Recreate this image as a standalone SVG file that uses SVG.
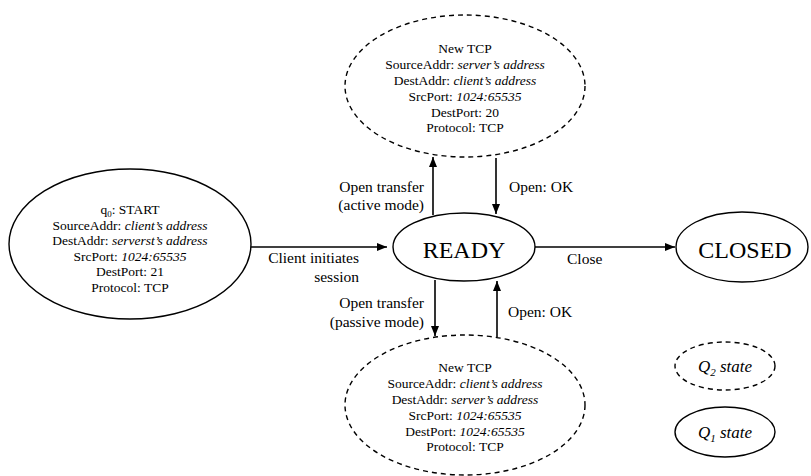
<svg xmlns="http://www.w3.org/2000/svg" width="811" height="476" viewBox="0 0 811 476">
<defs>
<style>
.n{fill:#fff;stroke:#000;stroke-width:1.4}
.d{fill:#fff;stroke:#000;stroke-width:1.4;stroke-dasharray:5 4}
.t{font-family:"Liberation Serif",serif;font-size:13.5px;fill:#000;text-anchor:middle}
.l{font-family:"Liberation Serif",serif;font-size:15.5px;fill:#000}
.b{font-family:"Liberation Serif",serif;font-size:24px;fill:#000;text-anchor:middle}
.g{font-family:"Liberation Serif",serif;font-size:17px;font-style:italic;fill:#000;text-anchor:middle}
.c{fill:none;stroke:#000;stroke-width:1.6}
i{font-style:italic}
</style>
<marker id="ah" viewBox="0 0 10 10" refX="10" refY="5" markerWidth="10" markerHeight="10" markerUnits="userSpaceOnUse" orient="auto">
<path d="M0,1 L10,5 L0,9 Z" fill="#000"/>
</marker>
</defs>
<rect width="811" height="476" fill="#fff"/>

<g id="start">
<ellipse class="n" cx="130" cy="244" rx="121" ry="75"/>
<text class="t" x="130" y="214">q<tspan font-size="9" dy="3">0</tspan><tspan dy="-3">: START</tspan></text>
<text class="t" x="130" y="229.5">SourceAddr: <tspan font-style="italic">client’s address</tspan></text>
<text class="t" x="130" y="245">DestAddr: <tspan font-style="italic">serverst’s address</tspan></text>
<text class="t" x="130" y="260.5">SrcPort: <tspan font-style="italic">1024:65535</tspan></text>
<text class="t" x="130" y="276">DestPort: 21</text>
<text class="t" x="130" y="291.5">Protocol: TCP</text>
</g>

<g id="active">
<ellipse class="d" cx="465" cy="86" rx="120" ry="71"/>
<text class="t" x="465" y="53">New TCP</text>
<text class="t" x="465" y="69">SourceAddr: <tspan font-style="italic">server’s address</tspan></text>
<text class="t" x="465" y="85">DestAddr: <tspan font-style="italic">client’s address</tspan></text>
<text class="t" x="465" y="101">SrcPort: <tspan font-style="italic">1024:65535</tspan></text>
<text class="t" x="465" y="117">DestPort: 20</text>
<text class="t" x="465" y="132">Protocol: TCP</text>
</g>

<g id="passive">
<ellipse class="d" cx="465" cy="405" rx="120" ry="70"/>
<text class="t" x="465" y="372">New TCP</text>
<text class="t" x="465" y="388">SourceAddr: <tspan font-style="italic">client’s address</tspan></text>
<text class="t" x="465" y="404">DestAddr: <tspan font-style="italic">server’s address</tspan></text>
<text class="t" x="465" y="420">SrcPort: <tspan font-style="italic">1024:65535</tspan></text>
<text class="t" x="465" y="436">DestPort: <tspan font-style="italic">1024:65535</tspan></text>
<text class="t" x="465" y="451">Protocol: TCP</text>
</g>

<g id="ready">
<ellipse class="n" cx="464" cy="247" rx="71" ry="34"/>
<text class="b" x="464" y="258">READY</text>
</g>

<g id="closed">
<ellipse class="n" cx="742" cy="247" rx="66" ry="35"/>
<text class="b" x="745" y="258">CLOSED</text>
</g>

<g id="legend-q2">
<ellipse class="d" cx="725" cy="366" rx="50" ry="24"/>
<text class="g" x="725" y="372">Q<tspan font-size="11" dy="4">2</tspan><tspan dy="-4"> state</tspan></text>
</g>
<g id="legend-q1">
<ellipse class="n" cx="725" cy="432" rx="50" ry="25"/>
<text class="g" x="725" y="438">Q<tspan font-size="11" dy="4">1</tspan><tspan dy="-4"> state</tspan></text>
</g>

<g id="connectors">
<line class="c" x1="251" y1="247" x2="387" y2="247" marker-end="url(#ah)"/>
<line class="c" x1="535" y1="247" x2="675" y2="247" marker-end="url(#ah)"/>
<line class="c" x1="433" y1="215" x2="433" y2="157" marker-end="url(#ah)"/>
<line class="c" x1="496" y1="158" x2="496" y2="214" marker-end="url(#ah)"/>
<line class="c" x1="435" y1="280" x2="435" y2="336" marker-end="url(#ah)"/>
<line class="c" x1="497" y1="337" x2="497" y2="281" marker-end="url(#ah)"/>
</g>

<g id="labels">
<text class="l" x="424" y="192" text-anchor="end">Open transfer</text>
<text class="l" x="424" y="210" text-anchor="end">(active mode)</text>
<text class="l" x="509" y="192">Open: OK</text>
<text class="l" x="359" y="263" text-anchor="end">Client initiates</text>
<text class="l" x="359" y="282" text-anchor="end">session</text>
<text class="l" x="567" y="264">Close</text>
<text class="l" x="424" y="308" text-anchor="end">Open transfer</text>
<text class="l" x="424" y="327" text-anchor="end">(passive mode)</text>
<text class="l" x="508" y="317">Open: OK</text>
</g>
</svg>
